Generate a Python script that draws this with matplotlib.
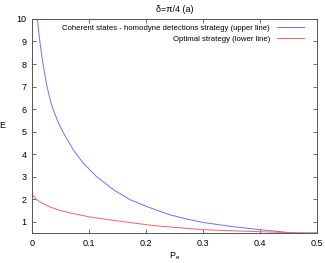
import numpy as np
import matplotlib
matplotlib.use('Agg')
import matplotlib.pyplot as plt

# values
pe_upper = [0.0093, 0.014, 0.019, 0.026, 0.033, 0.04, 0.048, 0.057, 0.0725, 0.09, 0.113,
            0.143, 0.172, 0.201, 0.2246, 0.242, 0.27, 0.30, 0.35, 0.40, 0.447, 0.47, 0.5]
e_upper = [10.0, 8.95, 8.04, 7.03, 6.3, 5.78, 5.3, 4.86, 4.19, 3.60, 3.01,
           2.42, 1.98, 1.68, 1.46, 1.31, 1.13, 0.97, 0.79, 0.65, 0.53, 0.5, 0.5]

pe_lower = [0.0, 0.008, 0.018, 0.032, 0.048, 0.067, 0.102, 0.143, 0.201, 0.2246, 0.242,
            0.27, 0.30, 0.35, 0.40, 0.45, 0.47, 0.5]
e_lower = [2.24, 1.98, 1.82, 1.65, 1.51, 1.39, 1.21, 1.06, 0.87, 0.80, 0.77,
           0.71, 0.65, 0.60, 0.56, 0.52, 0.5, 0.5]

label_upper = 'Coherent states - homodyne detections strategy (upper line)'
label_lower = 'Optimal strategy (lower line)'

plt.rcParams['font.family'] = ['Liberation Sans', 'DejaVu Sans']
plt.rcParams['font.size'] = 6.5

fig = plt.figure(figsize=(3.25, 2.63), dpi=100)
ax = fig.add_axes([0.0985, 0.114, 0.8765, 0.814])

ax.plot(pe_upper, e_upper, color='#7070ff', lw=0.7, label=label_upper)
ax.plot(pe_lower, e_lower, color='#ff6060', lw=0.7, label=label_lower)

ax.set_xlim(0, 0.5)
ax.set_ylim(0.5, 10)
ax.set_xticks([0, 0.1, 0.2, 0.3, 0.4, 0.5])
ax.set_xticklabels(['0', '0.1', '0.2', '0.3', '0.4', '0.5'])
ax.set_yticks(range(1, 11))
ax.tick_params(direction='in', length=3, width=0.6, top=True, right=True,
               color='#555555', labelsize=6.5, pad=4)
for s in ax.spines.values():
    s.set_linewidth(0.7)
    s.set_color('#555555')

ax.set_title('δ=π/4 (a)', fontsize=6.5, pad=5)
ax.set_xlabel('P$_\\mathregular{e}$', fontsize=6.5, labelpad=2)
ax.set_ylabel('E', fontsize=6.5, rotation=0, labelpad=10, va='center')

ax.legend(loc='upper right', frameon=False, markerfirst=False, fontsize=5.6,
          handlelength=3.5, handletextpad=0.9, labelspacing=0.5,
          borderaxespad=0.3, bbox_to_anchor=(0.975, 1.0))

fig.savefig('out.png', dpi=100)
